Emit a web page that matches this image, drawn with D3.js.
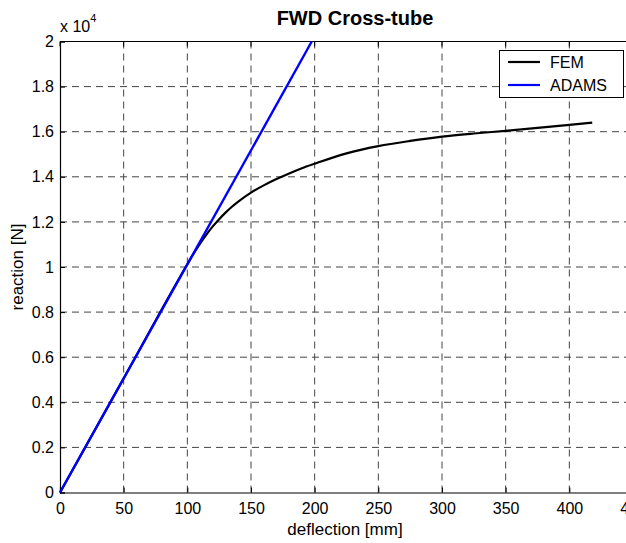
<!DOCTYPE html>
<html>
<head>
<meta charset="utf-8">
<script src="https://d3js.org/d3.v7.min.js"></script>
<style>
body { margin: 0; background: #fff; }
text { font-family: "Liberation Sans", Arial, sans-serif; }
</style>
</head>
<body>
<script>
// FEM curve (deflection mm, reaction N)
const femX = [0, 50, 100, 105, 110, 115, 120, 125, 130, 135, 140, 150, 160, 170, 180, 190, 200, 225, 250, 275, 300, 325, 350, 375, 400, 418];
const femY = [0, 5060, 10120, 10600, 11040, 11440, 11800, 12120, 12410, 12670, 12900, 13300, 13620, 13900, 14150, 14380, 14580, 15040, 15360, 15590, 15780, 15920, 16040, 16170, 16300, 16400];
// ADAMS linear line
const adamsX = [0, 197.7];
const adamsY = [0, 20000];

const xTicks = [0, 50, 100, 150, 200, 250, 300, 350, 400, 450];
const yTicks = [0, 2000, 4000, 6000, 8000, 10000, 12000, 14000, 16000, 18000, 20000];

const width = 626, height = 543;
const margin = {left: 60, top: 41.5, right: -7, bottom: 50.5};
const pw = width - margin.left - margin.right;
const ph = height - margin.top - margin.bottom;

const svg = d3.select("body").append("svg")
  .attr("width", width)
  .attr("height", height);

const x = d3.scaleLinear().domain([0, 450]).range([0, pw]);
const y = d3.scaleLinear().domain([0, 20000]).range([ph, 0]);

const g = svg.append("g")
  .attr("transform", "translate(" + margin.left + "," + margin.top + ")");

// grid
g.selectAll(".vgrid").data(xTicks.slice(1, -1)).enter().append("line")
  .attr("x1", d => x(d)).attr("x2", d => x(d))
  .attr("y1", 0).attr("y2", ph)
  .attr("stroke", "#444").attr("stroke-width", 1)
  .attr("stroke-dasharray", "7,5");
g.selectAll(".hgrid").data(yTicks.slice(1, -1)).enter().append("line")
  .attr("y1", d => y(d)).attr("y2", d => y(d))
  .attr("x1", 0).attr("x2", pw)
  .attr("stroke", "#444").attr("stroke-width", 1)
  .attr("stroke-dasharray", "7,5");

// axes
const xAxis = d3.axisBottom(x).tickValues(xTicks).tickSize(-5).tickPadding(9).tickFormat(d3.format("d"));
const yAxis = d3.axisLeft(y).tickValues(yTicks).tickSize(-5).tickPadding(6).tickFormat(d => d3.format("")(+(d / 10000).toFixed(1)));

const gx = g.append("g").attr("transform", "translate(0," + ph + ")").call(xAxis);
const gy = g.append("g").call(yAxis);
[gx, gy].forEach(a => {
  a.select(".domain").attr("stroke", "#000").attr("stroke-width", 1.2);
  a.selectAll("text").attr("font-size", 16).attr("fill", "#000");
  a.selectAll(".tick line").attr("stroke", "#000");
});
gx.selectAll("text").attr("dy", "0.75em");

// top border & ticks
g.append("line").attr("x1", 0).attr("x2", pw).attr("y1", 0).attr("y2", 0)
  .attr("stroke", "#000").attr("stroke-width", 1.2);
g.selectAll(".ttick").data(xTicks).enter().append("line")
  .attr("x1", d => x(d)).attr("x2", d => x(d)).attr("y1", 0).attr("y2", 5)
  .attr("stroke", "#000");

// data lines
const line = d3.line().x(d => x(d[0])).y(d => y(d[1])).curve(d3.curveMonotoneX);
g.append("path").datum(femX.map((d, i) => [d, femY[i]]))
  .attr("d", line).attr("fill", "none").attr("stroke", "#000").attr("stroke-width", 2.2);
g.append("path").datum(adamsX.map((d, i) => [d, adamsY[i]]))
  .attr("d", line).attr("fill", "none").attr("stroke", "#0000ff").attr("stroke-width", 2.4);

// title with white background covering top border
svg.append("rect").attr("x", 232).attr("y", 0).attr("width", 249).attr("height", 36).attr("fill", "#fff");
svg.append("text").attr("x", 355).attr("y", 25).attr("text-anchor", "middle")
  .attr("font-size", 20).attr("font-weight", "bold").text("FWD Cross-tube");

// exponent
const ex = svg.append("text").attr("x", 60).attr("y", 32).attr("font-size", 16);
ex.append("tspan").text("x 10");
ex.append("tspan").attr("dy", -10).attr("font-size", 11).text("4");

// axis labels
svg.append("text").attr("x", 345).attr("y", 535).attr("text-anchor", "middle")
  .attr("font-size", 17).text("deflection [mm]");
svg.append("text").attr("transform", "translate(23," + (margin.top + ph / 2) + ") rotate(-90)")
  .attr("text-anchor", "middle").attr("font-size", 17).text("reaction [N]");

// legend
const leg = svg.append("g");
leg.append("rect").attr("x", 499.5).attr("y", 50.5).attr("width", 124).attr("height", 47)
  .attr("fill", "#fff").attr("stroke", "#000").attr("stroke-width", 1);
const names = ["FEM", "ADAMS"], cols = ["#000", "#0000ff"];
names.forEach((n, i) => {
  const yy = 62 + i * 23;
  leg.append("line").attr("x1", 508).attr("x2", 540).attr("y1", yy).attr("y2", yy)
    .attr("stroke", cols[i]).attr("stroke-width", 2.2);
  leg.append("text").attr("x", 550).attr("y", yy + 6).attr("font-size", 16).text(n);
});
</script>
</body>
</html>
